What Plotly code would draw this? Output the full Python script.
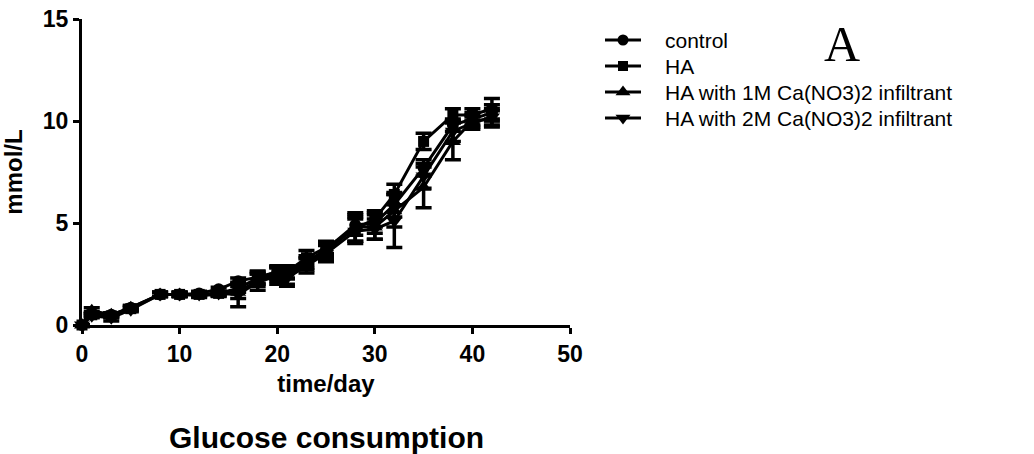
import plotly.graph_objects as go

# Sampling days
days = [0, 1, 3, 5, 8, 10, 12, 14, 16, 18, 20, 21, 23, 25, 28, 30, 32, 35, 38, 40, 42]

# Mean glucose consumption (mmol/L)
control = [0, 0.55, 0.5, 0.85, 1.5, 1.5, 1.55, 1.75, 2.15, 2.35, 2.6, 2.55, 3.1, 3.7, 4.9, 5.0, 5.9, 7.7, 9.8, 10.1, 10.4]
ha = [0, 0.5, 0.45, 0.8, 1.5, 1.5, 1.5, 1.55, 1.8, 2.3, 2.55, 2.6, 3.3, 3.8, 4.7, 5.2, 6.4, 9.0, 10.3, 10.3, 10.6]
ha_1m = [0, 0.7, 0.5, 0.85, 1.5, 1.5, 1.45, 1.5, 1.6, 2.2, 2.5, 2.4, 3.0, 3.6, 4.8, 4.8, 5.6, 6.75, 9.0, 10.0, 10.1]
ha_2m = [0, 0.45, 0.35, 0.75, 1.5, 1.5, 1.5, 1.55, 1.5, 2.1, 2.4, 2.3, 2.9, 3.5, 4.6, 4.7, 5.1, 7.3, 9.5, 9.9, 10.2]

# Standard deviations
control_sd = [0, 0.1, 0.1, 0.1, 0.1, 0.1, 0.1, 0.1, 0.15, 0.3, 0.3, 0.3, 0.3, 0.35, 0.5, 0.5, 0.6, 0.4, 0.3, 0.3, 0.4]
ha_sd = [0, 0.1, 0.1, 0.1, 0.1, 0.1, 0.1, 0.1, 0.2, 0.3, 0.3, 0.3, 0.35, 0.3, 0.6, 0.4, 0.5, 0.4, 0.3, 0.3, 0.5]
ha_1m_sd = [0, 0.15, 0.1, 0.1, 0.1, 0.1, 0.1, 0.1, 0.3, 0.3, 0.35, 0.4, 0.3, 0.4, 0.7, 0.6, 0.8, 1.0, 0.9, 0.3, 0.4]
ha_2m_sd = [0, 0.1, 0.15, 0.1, 0.1, 0.1, 0.1, 0.1, 0.6, 0.4, 0.4, 0.4, 0.35, 0.4, 0.6, 0.5, 1.3, 0.6, 0.5, 0.3, 0.4]

series = [
    ("control", control, control_sd, "circle", 12),
    ("HA", ha, ha_sd, "square", 11),
    ("HA with 1M Ca(NO3)2 infiltrant", ha_1m, ha_1m_sd, "triangle-up", 14),
    ("HA with 2M Ca(NO3)2 infiltrant", ha_2m, ha_2m_sd, "triangle-down", 14),
]

W, H = 1034, 454
# plot box in pixels (left, right, top, bottom)
PL, PR, PT, PB = 82, 570, 19, 325
SANS = "Liberation Sans, Arial, sans-serif"

fig = go.Figure()
for name, vals, sd, sym, size in series:
    fig.add_trace(go.Scatter(
        x=days, y=vals, name=name, mode="lines+markers",
        line=dict(color="black", width=3),
        marker=dict(symbol=sym, size=size, color="black"),
        error_y=dict(type="data", array=sd, visible=True, color="black",
                     thickness=3.5, width=8),
        cliponaxis=False, showlegend=False,
    ))

# Legend keys on a full-page axis pair measured in pixels
LEG_X0, LEG_X1, LEG_TEXT_X = 605, 641, 663
LEG_ROWS = [40, 66, 92, 118]
annotations = []
for (name, vals, sd, sym, size), ry in zip(series, LEG_ROWS):
    fig.add_trace(go.Scatter(
        x=[LEG_X0, LEG_X1], y=[ry, ry], mode="lines", xaxis="x2", yaxis="y2",
        line=dict(color="black", width=3), showlegend=False, hoverinfo="skip",
        cliponaxis=False,
    ))
    fig.add_trace(go.Scatter(
        x=[(LEG_X0 + LEG_X1) / 2], y=[ry], mode="markers", xaxis="x2", yaxis="y2",
        marker=dict(symbol=sym, size=size - 1, color="black"), showlegend=False,
        hoverinfo="skip", cliponaxis=False,
    ))
    annotations.append(dict(
        text=name, xref="x2", yref="y2", x=LEG_TEXT_X, y=ry,
        xanchor="left", yanchor="middle", showarrow=False,
        font=dict(family=SANS, size=21, color="black"),
    ))

annotations += [
    dict(text="<b>Glucose consumption</b>", xref="x2", yref="y2",
         x=(PL + PR) / 2, y=437, xanchor="center", yanchor="middle", showarrow=False,
         font=dict(family=SANS, size=30, color="black")),
    dict(text="A", xref="x2", yref="y2",
         x=842, y=44, xanchor="center", yanchor="middle", showarrow=False,
         font=dict(family="Liberation Serif, Times New Roman, serif", size=50, color="black")),
]

tick_font = dict(family=SANS, size=23, color="black", weight="bold")
title_font = dict(family=SANS, size=24, color="black")

fig.update_layout(
    template="none",
    width=W, height=H,
    margin=dict(l=0, r=0, t=0, b=0),
    plot_bgcolor="rgba(0,0,0,0)", paper_bgcolor="white",
    showlegend=False,
    xaxis=dict(
        domain=[PL / W, PR / W], anchor="y",
        range=[0, 50], tickvals=[0, 10, 20, 30, 40, 50],
        showline=True, linecolor="black", linewidth=3,
        ticks="outside", ticklen=6, tickwidth=3, tickcolor="black",
        showgrid=False, zeroline=False, automargin=False,
        tickfont=tick_font,
        title=dict(text="<b>time/day</b>", font=title_font, standoff=10),
    ),
    yaxis=dict(
        domain=[1 - PB / H, 1 - PT / H], anchor="x",
        range=[0, 15], tickvals=[0, 5, 10, 15],
        showline=True, linecolor="black", linewidth=3,
        ticks="outside", ticklen=6, tickwidth=3, tickcolor="black",
        showgrid=False, zeroline=False, automargin=False,
        tickfont=tick_font,
        title=dict(text="<b>mmol/L</b>", font=title_font, standoff=22),
    ),
    xaxis2=dict(domain=[0, 1], range=[0, W], visible=False, anchor="y2",
                fixedrange=True),
    yaxis2=dict(domain=[0, 1], range=[H, 0], visible=False, anchor="x2",
                fixedrange=True),
    annotations=annotations,
)

fig.write_html("out.html")
